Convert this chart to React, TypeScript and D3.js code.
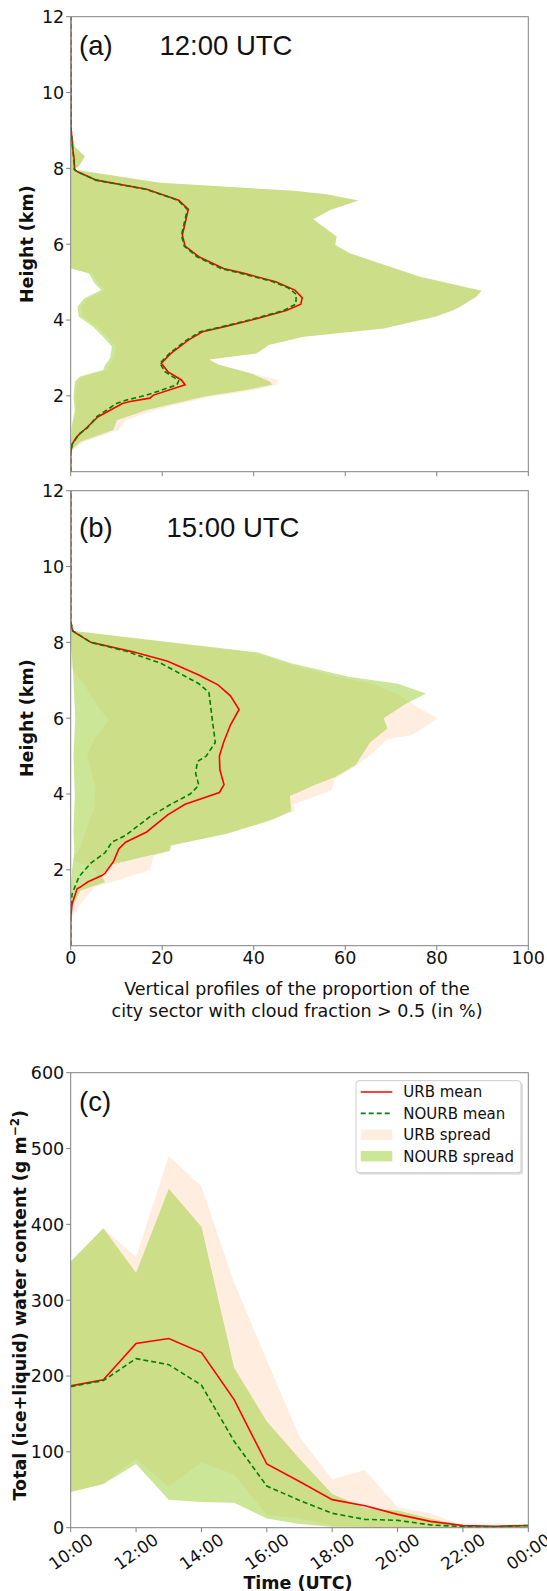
import React from 'react';
import * as d3 from 'd3';

type P = [number, number]; // [height (km), percent]

// ---------- Panel (a) 12:00 UTC ----------
const aUrbMean: P[] = [[0,0],[0.5,0],[0.72,0.3],[0.92,1.3],[1.14,3.3],[1.45,6.0],[1.8,11.3],[1.85,13.0],[1.94,17.3],[2.02,18.1],[2.29,25.0],[2.42,24.2],[2.64,21.2],[2.86,19.8],[3.12,21.9],[3.47,25.7],[3.69,28.8],[3.84,34.1],[4.0,39.5],[4.25,47.1],[4.42,50.3],[4.59,50.6],[4.79,49.0],[5.01,44.8],[5.23,37.9],[5.36,33.4],[5.67,28.0],[5.95,25.0],[6.24,24.4],[6.92,25.7],[7.16,23.6],[7.45,16.6],[7.69,5.6],[7.91,1.5],[7.97,0.84],[8.22,0.76],[8.57,0.4],[9.1,0.05],[12,0]];
const aNourbMean: P[] = [[0,0],[0.5,0],[0.72,0.3],[1.01,2.0],[1.15,3.6],[1.45,5.7],[1.8,10.0],[1.89,12.2],[2.02,16.6],[2.29,23.2],[2.4,23.6],[2.64,20.6],[2.86,19.5],[3.12,21.6],[3.47,25.3],[3.69,28.3],[3.84,33.6],[4.0,39.0],[4.25,46.5],[4.42,49.2],[4.68,49.3],[4.85,47.5],[5.01,44.2],[5.23,37.2],[5.36,32.8],[5.67,27.6],[5.95,24.8],[6.24,24.2],[6.92,25.5],[7.16,23.4],[7.45,16.4],[7.69,5.5],[7.91,1.4],[7.97,0.8],[8.22,0.7],[8.57,0.4],[9.1,0.05],[12,0]];
const aNourbMax: P[] = [[0.5,0],[0.62,0.6],[0.79,2.1],[1.1,9.3],[1.36,10.1],[1.63,16.6],[1.98,29.0],[2.15,37.9],[2.29,44.0],[2.37,43.6],[2.59,39.5],[2.83,32.2],[2.96,30.3],[3.12,40.6],[3.34,43.3],[3.56,50.9],[3.78,68.4],[4.09,79.8],[4.26,83.6],[4.35,85.1],[4.62,88.7],[4.77,89.8],[5.14,76.3],[5.76,61.0],[5.98,57.8],[6.2,58.1],[6.66,53.0],[6.9,56.7],[7.15,62.9],[7.32,55.9],[7.41,48.7],[7.62,19.5],[7.97,0.6],[8.04,1.7],[8.31,3.1],[8.57,0.9],[9.1,0],[12,0]];
const aNourbMin: P[] = [[0.5,0],[1.19,0.2],[1.63,0.9],[1.98,0.6],[2.37,0.9],[2.51,2.0],[2.68,7.1],[2.81,7.5],[2.99,8.6],[3.3,9.0],[3.56,7.1],[3.82,4.9],[4.09,1.75],[4.35,1.5],[4.57,2.9],[4.79,6.7],[4.97,5.2],[5.23,4.0],[5.36,0.1],[12,0]];
const aUrbMax: P[] = [[0.5,0],[0.62,0.8],[0.79,3.0],[1.1,10.5],[1.36,12.0],[1.63,18.5],[1.98,30.5],[2.15,40.0],[2.29,45.0],[2.42,45.4],[2.59,39.5],[2.83,32.2],[2.96,30.3],[3.12,40.6],[3.34,43.3],[3.56,50.9],[3.78,68.4],[4.09,79.8],[4.26,83.6],[4.35,85.1],[4.62,88.7],[4.77,89.8],[5.14,76.3],[5.76,61.0],[5.98,57.8],[6.2,58.1],[6.66,53.0],[6.9,56.7],[7.15,62.9],[7.32,55.9],[7.41,48.7],[7.62,19.5],[7.97,0.6],[8.04,1.7],[8.31,3.1],[8.57,0.9],[9.1,0],[12,0]];
const aUrbMin: P[] = [[0.5,0],[1.19,0.4],[1.63,1.2],[1.98,1.0],[2.37,1.4],[2.51,2.8],[2.68,8.0],[2.81,8.4],[2.99,9.5],[3.3,9.9],[3.56,8.0],[3.82,5.8],[4.09,2.6],[4.35,2.3],[4.57,3.7],[4.79,7.5],[4.97,6.0],[5.23,4.6],[5.36,0.1],[12,0]];

// ---------- Panel (b) 15:00 UTC ----------
const bUrbMean: P[] = [[0,0],[0.7,0],[1.1,0.3],[1.5,1.4],[1.54,2.0],[1.68,3.7],[1.85,6.8],[1.91,7.5],[2.16,9.0],[2.23,9.4],[2.55,10.5],[2.6,10.9],[2.73,12.0],[3.0,16.6],[3.45,21.2],[3.73,25.0],[4.04,32.5],[4.25,33.5],[4.64,32.6],[5.0,32.5],[5.36,33.4],[5.82,34.9],[6.23,36.8],[6.59,34.9],[6.88,32.2],[7.14,28.0],[7.5,21.2],[7.75,13.6],[8.0,4.4],[8.3,0.4],[8.55,0],[12,0]];
const bNourbMean: P[] = [[0,0],[0.9,0],[1.36,0.3],[1.82,1.8],[2.18,4.4],[2.45,7.5],[2.73,9.0],[2.91,12.0],[3.41,17.4],[3.73,21.9],[4.0,26.1],[4.23,28.0],[4.55,27.3],[4.86,27.7],[5.0,29.6],[5.36,31.6],[5.91,31.0],[6.68,30.2],[6.91,28.0],[7.45,19.7],[7.77,12.0],[8.0,4.4],[8.3,0.5],[8.55,0],[12,0]];
const bNourbMax: P[] = [[0.5,0],[1.0,0.2],[1.45,2.1],[1.68,7.5],[1.86,6.7],[2.14,9.0],[2.32,15.1],[2.5,21.6],[2.64,21.9],[2.95,34.1],[3.32,44.0],[3.55,48.2],[3.95,47.9],[4.23,53.2],[4.45,57.8],[4.77,62.3],[5.36,65.4],[5.73,69.2],[6.0,68.4],[6.36,73.0],[6.65,77.6],[6.91,71.5],[7.09,60.8],[7.45,48.2],[7.73,41.0],[8.3,0.7],[8.45,0],[12,0]];
const bNourbMin: P[] = [[0.5,0],[1.5,0],[2.0,0.3],[2.5,0.8],[3.0,0.6],[4.0,0.9],[5.0,0.6],[6.0,1.0],[7.0,0.6],[7.6,0.3],[8.0,0],[12,0]];
const bUrbMax: P[] = [[0.5,0],[0.75,0.3],[1.09,2.1],[1.55,5.2],[1.73,10.5],[2.0,17.4],[2.36,18.1],[2.5,21.6],[2.64,21.9],[2.95,34.1],[3.32,44.0],[3.55,49.0],[3.73,48.6],[4.09,57.0],[4.4,57.8],[4.73,62.3],[5.09,66.1],[5.45,69.2],[5.55,74.5],[6.0,80.2],[6.32,75.3],[6.6,72.0],[6.91,66.0],[7.09,58.0],[7.45,47.0],[7.73,40.0],[8.3,0.6],[8.45,0],[12,0]];
const bUrbMin: P[] = [[0.5,0],[1.3,0.5],[1.6,3.0],[1.9,6.0],[2.1,4.0],[2.25,0.4],[2.6,2.1],[3.12,3.6],[3.65,5.2],[4.18,5.4],[4.6,4.5],[5.06,3.6],[5.5,5.4],[5.94,8.3],[6.3,6.0],[6.91,2.8],[7.18,1.0],[7.4,0],[12,0]];

// ---------- Panel (c) time series ----------
const cHours = [10, 11, 12, 13, 14, 15, 16, 17, 18, 19, 20, 21, 22, 23, 24];
const cUrbMean = [187, 195, 243, 249.5, 231, 169, 84, 61, 37, 29, 17.6, 8.3, 2.8, 2, 3];
const cNourbMean = [186, 194, 223, 215, 188, 114, 55, 36, 19, 11, 9.7, 3.7, 1.4, 1, 3];
const cUrbMax = [351, 395, 357, 490, 450, 323, 221, 120, 64, 76, 27, 19, 3, 2, 3];
const cUrbMin = [47, 57.5, 91, 54, 86, 70, 17, 12, 3, 1, 0.5, 0.3, 0.3, 0.3, 0.3];
const cNourbMax = [351, 395, 336, 447, 397, 211, 140, 91, 44.5, 26, 22.7, 12, 2.8, 2, 3];
const cNourbMin = [47, 57.5, 84, 37, 34, 33, 12, 5, 1, 0.5, 0.5, 0.3, 0.3, 0.3, 0.3];

// ---------- ticks & labels ----------
const pctTicks = [0, 20, 40, 60, 80, 100];
const heightTicks = [2, 4, 6, 8, 10, 12];
const twcTicks = [0, 100, 200, 300, 400, 500, 600];
const hourTicks = [10, 12, 14, 16, 18, 20, 22, 24];
const hourLabels = ['10:00', '12:00', '14:00', '16:00', '18:00', '20:00', '22:00', '00:00'];
const legendLabels = ['URB mean', 'NOURB mean', 'URB spread', 'NOURB spread'];

// ---------- style ----------
const X0 = 70.7, X1 = 528.3, PH = 455;
const TICK_FONT = "'DejaVu Sans', Verdana, sans-serif";
const TITLE_FONT = "'Liberation Sans', Arial, sans-serif";
const RED = '#ff0000';
const GREEN = '#008000';
const URB_FILL = '#ffdab9';
const URB_OP = 0.45;
const NOURB_FILL = 'rgb(154,205,50)';
const NOURB_OP = 0.5;
const SPINE = '#808080';
const TXT = '#111';

interface ProfileProps {
  id: string; top: number; label: string; time: string; titleBase: number; timeX: number;
  urbMean: P[]; nourbMean: P[]; urbMax: P[]; urbMin: P[]; nourbMax: P[]; nourbMin: P[];
  xLabels: boolean;
}

function Profile(p: ProfileProps) {
  const x = d3.scaleLinear().domain([0, 100]).range([X0, X1]);
  const y = d3.scaleLinear().domain([0, 12]).range([p.top + PH, p.top]);
  const line = d3.line<P>().x(d => x(d[1])).y(d => y(d[0]));
  const band = (mx: P[], mn: P[]) => line([...mx, ...mn.slice().reverse()]) + 'Z';
  const bottom = p.top + PH;
  return (
    <g>
      <defs>
        <clipPath id={p.id}><rect x={X0} y={p.top} width={X1 - X0} height={PH} /></clipPath>
      </defs>
      <g clipPath={`url(#${p.id})`}>
        <path d={band(p.urbMax, p.urbMin)} fill={URB_FILL} fillOpacity={URB_OP} />
        <path d={band(p.nourbMax, p.nourbMin)} fill={NOURB_FILL} fillOpacity={NOURB_OP} />
        <path d={line(p.urbMean) || ''} fill="none" stroke={RED} strokeWidth={1.6} />
        <path d={line(p.nourbMean) || ''} fill="none" stroke={GREEN} strokeWidth={1.6} strokeDasharray="5,3" />
      </g>
      <rect x={X0} y={p.top} width={X1 - X0} height={PH} fill="none" stroke={SPINE} strokeWidth={1} />
      {heightTicks.map(t => (
        <g key={'y' + t}>
          <line x1={X0 - 4.5} x2={X0} y1={y(t)} y2={y(t)} stroke={SPINE} />
          <text x={X0 - 6.5} y={y(t)} dy="0.36em" textAnchor="end" fontFamily={TICK_FONT} fontSize={17.5} fill={TXT}>{t}</text>
        </g>
      ))}
      {pctTicks.map(t => (
        <g key={'x' + t}>
          <line x1={x(t)} x2={x(t)} y1={bottom} y2={bottom + 4.5} stroke={SPINE} />
          {p.xLabels && (
            <text x={x(t)} y={bottom + 18.3} textAnchor="middle" fontFamily={TICK_FONT} fontSize={17.5} fill={TXT}>{t}</text>
          )}
        </g>
      ))}
      <text x={33} y={p.top + PH / 2} transform={`rotate(-90 33 ${p.top + PH / 2})`} textAnchor="middle"
        fontFamily={TICK_FONT} fontWeight="bold" fontSize={17.5} fill={TXT}>Height (km)</text>
      <text x={79} y={p.titleBase} fontFamily={TITLE_FONT} fontSize={27.5} fill={TXT}>{p.label}</text>
      <text x={p.timeX} y={p.titleBase} fontFamily={TITLE_FONT} fontSize={27.5} fill={TXT}>{p.time}</text>
    </g>
  );
}

function SeriesPanel() {
  const top = 1072.7;
  const bottom = top + PH;
  const x = d3.scaleLinear().domain([10, 24]).range([X0, X1]);
  const y = d3.scaleLinear().domain([0, 600]).range([bottom, top]);
  const idx = cHours.map((_, i) => i);
  const area = (mx: number[], mn: number[]) =>
    d3.area<number>().x(i => x(cHours[i])).y0(i => y(mn[i])).y1(i => y(mx[i]))(idx) || '';
  const line = (v: number[]) => d3.line<number>().x(i => x(cHours[i])).y(i => y(v[i]))(idx) || '';
  const lx = 356, ly = 1080.7, lw = 165, lh = 92;
  const rowY = [1092, 1113.4, 1134.8, 1156.2];
  return (
    <g>
      <defs>
        <clipPath id="clipc"><rect x={X0} y={top} width={X1 - X0} height={PH} /></clipPath>
      </defs>
      <g clipPath="url(#clipc)">
        <path d={area(cUrbMax, cUrbMin)} fill={URB_FILL} fillOpacity={URB_OP} />
        <path d={area(cNourbMax, cNourbMin)} fill={NOURB_FILL} fillOpacity={NOURB_OP} />
        <path d={line(cUrbMean)} fill="none" stroke={RED} strokeWidth={1.6} />
        <path d={line(cNourbMean)} fill="none" stroke={GREEN} strokeWidth={1.6} strokeDasharray="5,3" />
      </g>
      <rect x={X0} y={top} width={X1 - X0} height={PH} fill="none" stroke={SPINE} strokeWidth={1} />
      {twcTicks.map(t => (
        <g key={'cy' + t}>
          <line x1={X0 - 4.5} x2={X0} y1={y(t)} y2={y(t)} stroke={SPINE} />
          <text x={X0 - 6.5} y={y(t)} dy="0.36em" textAnchor="end" fontFamily={TICK_FONT} fontSize={17.5} fill={TXT}>{t}</text>
        </g>
      ))}
      {hourTicks.map((t, i) => (
        <g key={'cx' + t}>
          <line x1={x(t)} x2={x(t)} y1={bottom} y2={bottom + 4.5} stroke={SPINE} />
          <text x={x(t)} y={bottom + 24} dy="0.36em" textAnchor="middle" transform={`rotate(-35 ${x(t)} ${bottom + 24})`}
            fontFamily={TICK_FONT} fontSize={17} fill={TXT}>{hourLabels[i]}</text>
        </g>
      ))}
      <text x={21} y={(top + bottom) / 2} transform={`rotate(-90 26 ${(top + bottom) / 2})`} textAnchor="middle"
        fontFamily={TICK_FONT} fontWeight="bold" fontSize={17.5} fill={TXT}>
        Total (ice+liquid) water content (g m<tspan dy="-7" fontSize={12}>−2</tspan><tspan dy="7">)</tspan>
      </text>
      <text x={298} y={1589} textAnchor="middle" fontFamily={TICK_FONT} fontWeight="bold" fontSize={17.5} fill={TXT}>Time (UTC)</text>
      <text x={79} y={1111} fontFamily={TITLE_FONT} fontSize={27.5} fill={TXT}>(c)</text>
      {/* legend */}
      <rect x={lx + 2} y={ly + 2} width={lw} height={lh} rx={3} fill="#000" fillOpacity={0.12} />
      <rect x={lx} y={ly} width={lw} height={lh} rx={3} fill="#fff" stroke="#cccccc" strokeWidth={1} />
      <line x1={360.7} x2={392.3} y1={rowY[0]} y2={rowY[0]} stroke={RED} strokeWidth={1.6} />
      <line x1={360.7} x2={392.3} y1={rowY[1]} y2={rowY[1]} stroke={GREEN} strokeWidth={1.6} strokeDasharray="5,3" />
      <rect x={360.7} y={rowY[2] - 5.2} width={31.6} height={10.4} fill={URB_FILL} fillOpacity={URB_OP} />
      <rect x={360.7} y={rowY[3] - 5.2} width={31.6} height={10.4} fill={NOURB_FILL} fillOpacity={NOURB_OP} />
      {legendLabels.map((s, i) => (
        <text key={s} x={403.3} y={rowY[i]} dy="0.36em" fontFamily={TICK_FONT} fontSize={15} fill={TXT}>{s}</text>
      ))}
    </g>
  );
}

export default function App() {
  return (
    <svg width={547} height={1591} viewBox="0 0 547 1591"
      style={{ position: 'absolute', left: 0, top: 0, background: '#fff' }}>
      <rect x={0} y={0} width={547} height={1591} fill="#fff" />
      <Profile id="clipa" top={16.7} label="(a)" time="12:00 UTC" titleBase={54.5} timeX={159.5}
        urbMean={aUrbMean} nourbMean={aNourbMean} urbMax={aUrbMax} urbMin={aUrbMin}
        nourbMax={aNourbMax} nourbMin={aNourbMin} xLabels={false} />
      <Profile id="clipb" top={490.7} label="(b)" time="15:00 UTC" titleBase={536.8} timeX={166.5}
        urbMean={bUrbMean} nourbMean={bNourbMean} urbMax={bUrbMax} urbMin={bUrbMin}
        nourbMax={bNourbMax} nourbMin={bNourbMin} xLabels={true} />
      <text x={297} y={995} textAnchor="middle" fontFamily={TICK_FONT} fontSize={17.5} fill={TXT}>Vertical profiles of the proportion of the</text>
      <text x={297} y={1016.5} textAnchor="middle" fontFamily={TICK_FONT} fontSize={17.5} fill={TXT}>city sector with cloud fraction &gt; 0.5 (in %)</text>
      <SeriesPanel />
    </svg>
  );
}
